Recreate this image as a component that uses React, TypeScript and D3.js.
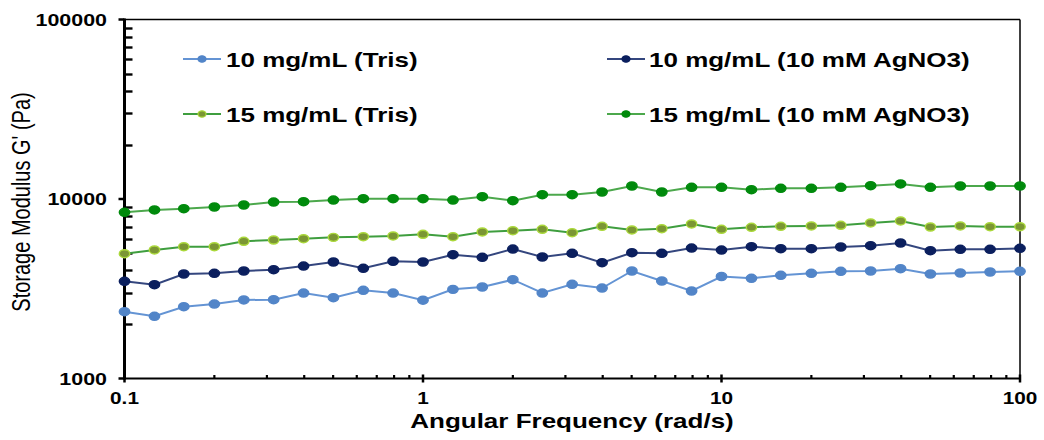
import React from "react";
import * as d3 from "d3";

// angular frequency (rad/s)
const freq = [
  0.1, 0.126, 0.158, 0.2, 0.251, 0.316, 0.398, 0.501, 0.631, 0.794, 1, 1.26,
  1.58, 2, 2.51, 3.16, 3.98, 5.01, 6.31, 7.94, 10, 12.6, 15.8, 20, 25.1, 31.6,
  39.8, 50.1, 63.1, 79.4, 100,
];

// storage modulus G' (Pa)
const tris10 = [
  2355, 2221, 2512, 2600, 2738, 2748, 2994, 2818, 3100, 2994, 2730, 3139, 3234,
  3551, 2994, 3347, 3192, 3971, 3493, 3072, 3700, 3615, 3757, 3855, 3955, 3971,
  4089, 3821, 3870, 3920, 3955,
];
const ag10 = [
  3479, 3331, 3821, 3855, 3971, 4037, 4233, 4457, 4111, 4497, 4457, 4894, 4734,
  5265, 4752, 4983, 4417, 5022, 4983, 5333, 5196, 5423, 5285, 5285, 5402, 5493,
  5687, 5150, 5245, 5245, 5312,
];
const tris15 = [
  4957, 5200, 5423, 5423, 5812, 5910, 6010, 6115, 6166, 6222, 6357, 6166, 6550,
  6660, 6781, 6491, 7046, 6720, 6833, 7258, 6781, 6957, 7046, 7074, 7138, 7352,
  7543, 6982, 7074, 7011, 7011,
];
const ag15 = [
  8430, 8685, 8830, 9025, 9260, 9620, 9660, 9870, 10040, 10040, 10040, 9870,
  10300, 9784, 10568, 10568, 10940, 11815, 10940, 11620, 11620, 11266, 11471,
  11471, 11620, 11862, 12124, 11620, 11815, 11815, 11815,
];

const xTicks = [0.1, 1, 10, 100];
const yTicks = [1000, 10000, 100000];

const series = [
  { name: "10 mg/mL (Tris)", values: tris10, line: "#6494d4", fill: "#5285c8", stroke: "#5285c8" },
  { name: "10 mg/mL (10 mM AgNO3)", values: ag10, line: "#34467e", fill: "#0b1f5e", stroke: "#0b1f5e" },
  { name: "15 mg/mL (Tris)", values: tris15, line: "#3f9e3f", fill: "#7b9634", stroke: "#aad83a" },
  { name: "15 mg/mL (10 mM AgNO3)", values: ag15, line: "#4ca84c", fill: "#008a0c", stroke: "#008a0c" },
];

const SX = 1.3; // horizontal stretch of the original picture
const FONT = "'Liberation Sans', Arial, sans-serif";

const STxt = ({ x, y, size, bold = true, anchor = "start", rotate = 0, children }) => (
  <text
    transform={`translate(${x},${y}) scale(${SX},1)${rotate ? ` rotate(${rotate})` : ""}`}
    fontFamily={FONT}
    fontSize={size}
    fontWeight={bold ? "bold" : "normal"}
    textAnchor={anchor}
    fill="#000"
  >
    {children}
  </text>
);

export default function App() {
  const left = 124.5;
  const right = 1020;
  const top = 19.5;
  const bottom = 378.5;

  const x = d3.scaleLog().domain([0.1, 100]).range([left, right]);
  const y = d3.scaleLog().domain([1000, 100000]).range([bottom, top]);

  const xMinor = x.ticks().filter((t) => !xTicks.some((m) => Math.abs(m - t) < 1e-9));
  const yMinor = y.ticks().filter((t) => !yTicks.some((m) => Math.abs(m - t) < 1e-9));

  const line = d3
    .line()
    .x((d) => x(d[0]))
    .y((d) => y(d[1]));

  const legendPos = [
    { lx: 183, tx: 226, cy: 59 },
    { lx: 607, tx: 649, cy: 59 },
    { lx: 183, tx: 226, cy: 114 },
    { lx: 607, tx: 649, cy: 114 },
  ];

  return (
    <svg
      width={1044}
      height={440}
      style={{ position: "absolute", left: 0, top: 0, background: "#fff" }}
    >
      {/* frame */}
      <line x1={left} x2={right} y1={top} y2={top} stroke="#000" strokeWidth={1.5} />
      <line x1={right} x2={right} y1={top} y2={bottom} stroke="#000" strokeWidth={1.5} />

      {/* y minor ticks (inside) */}
      {yMinor.map((t) => (
        <line key={"ym" + t} x1={left} x2={left + 8} y1={Math.round(y(t)) + 0.5} y2={Math.round(y(t)) + 0.5} stroke="#000" strokeWidth={2.4} />
      ))}
      {yTicks.map((t) => (
        <line key={"yM" + t} x1={left - 6} x2={left} y1={y(t)} y2={y(t)} stroke="#000" strokeWidth={2.5} />
      ))}
      {/* x minor ticks (inside) */}
      {xMinor.map((t) => (
        <line key={"xm" + t} x1={x(t)} x2={x(t)} y1={bottom} y2={bottom - 3.5} stroke="#000" strokeWidth={2.2} />
      ))}
      {xTicks.map((t) => (
        <line key={"xM" + t} x1={x(t)} x2={x(t)} y1={bottom - 4} y2={bottom + 4} stroke="#000" strokeWidth={2.5} />
      ))}

      {/* axes */}
      <line x1={left} x2={right} y1={bottom} y2={bottom} stroke="#000" strokeWidth={2.2} />
      <line x1={left} x2={left} y1={top - 1} y2={bottom + 1} stroke="#000" strokeWidth={3} />

      {/* tick labels */}
      {yTicks.map((t) => (
        <STxt key={"yl" + t} x={107} y={y(t) + 6} size={16.5} anchor="end">
          {String(t)}
        </STxt>
      ))}
      {xTicks.map((t) => (
        <STxt key={"xl" + t} x={x(t)} y={404} size={16} anchor="middle">
          {String(t)}
        </STxt>
      ))}

      {/* axis titles */}
      <STxt x={572} y={428} size={20} anchor="middle">
        Angular Frequency (rad/s)
      </STxt>
      <STxt x={30} y={202} size={20} bold={false} anchor="middle" rotate={-90}>
        Storage Modulus G' (Pa)
      </STxt>

      {/* series */}
      {series.map((s) => {
        const pts = freq.map((f, i) => [f, s.values[i]]);
        return (
          <g key={s.name}>
            <path d={line(pts)} fill="none" stroke={s.line} strokeWidth={2} />
            {pts.map((p, i) => (
              <ellipse
                key={i}
                cx={x(p[0])}
                cy={y(p[1])}
                rx={5.2}
                ry={4}
                fill={s.fill}
                stroke={s.stroke}
                strokeWidth={1.4}
              />
            ))}
          </g>
        );
      })}

      {/* legend */}
      {series.map((s, i) => {
        const p = legendPos[i];
        return (
          <g key={"lg" + s.name}>
            <line x1={p.lx} x2={p.lx + 38} y1={p.cy} y2={p.cy} stroke={s.line} strokeWidth={2} />
            <ellipse cx={p.lx + 19} cy={p.cy} rx={4} ry={3.2} fill={s.fill} stroke={s.stroke} strokeWidth={1.2} />
            <STxt x={p.tx} y={p.cy + 7.5} size={20}>
              {s.name}
            </STxt>
          </g>
        );
      })}
    </svg>
  );
}
